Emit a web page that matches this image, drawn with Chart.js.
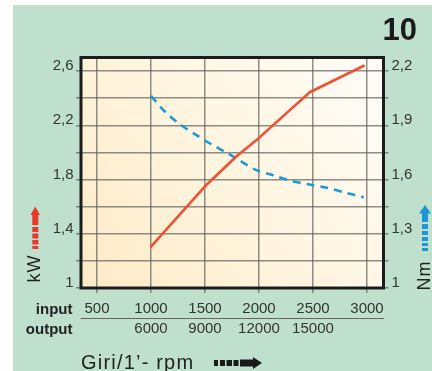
<!DOCTYPE html>
<html>
<head>
<meta charset="utf-8">
<script src="https://cdn.jsdelivr.net/npm/chart.js@4/dist/chart.umd.min.js"></script>
<style>
html,body{margin:0;padding:0;background:#fff;}
#wrap{position:relative;width:432px;height:371px;}
canvas{display:block;}
</style>
</head>
<body>
<div id="wrap"><canvas id="c" width="432" height="371"></canvas></div>
<script>
// ---- data ----
const inputTicks  = [500, 1000, 1500, 2000, 2500, 3000];
const outputTicks = ['', '6000', '9000', '12000', '15000', ''];
const kwGridTicks = [1, 1.2, 1.4, 1.6, 1.8, 2.0, 2.2, 2.4, 2.6];
const kwLabeled   = [1, 1.4, 1.8, 2.2, 2.6];
const nmGridTicks = [1, 1.15, 1.3, 1.45, 1.6, 1.75, 1.9, 2.05, 2.2];
const nmLabeled   = [1, 1.3, 1.6, 1.9, 2.2];

const kwRpm    = [1000, 1500, 1790, 2000, 2470, 2970];
const kwValues = [1.306, 1.75, 1.97, 2.107, 2.444, 2.639];

const nmRpm    = [1000, 1130, 1270, 1410, 1550, 1690, 1820, 1960, 2130, 2290, 2470, 2630, 2810, 2970];
const nmValues = [2.063, 1.975, 1.905, 1.85, 1.798, 1.752, 1.706, 1.656, 1.624, 1.594, 1.572, 1.554, 1.526, 1.502];

const FONT = "'Liberation Sans', Arial, Helvetica, sans-serif";
const gridColor = 'rgba(90,90,85,0.68)';
const fmt = v => String(Math.round(v * 100) / 100).replace('.', ',');
const isIn = (arr, v) => arr.some(a => Math.abs(a - v) < 1e-6);

const deco = {
  id: 'deco',
  beforeDraw(chart) {
    const {ctx, chartArea: a} = chart;
    ctx.save();
    ctx.fillStyle = '#ffffff';
    ctx.fillRect(0, 0, 432, 371);
    ctx.fillStyle = '#bfe0cc';
    ctx.fillRect(13, 5, 419, 366);
    const g = ctx.createLinearGradient(a.left, a.bottom, a.right, a.top);
    g.addColorStop(0, '#fdebc6');
    g.addColorStop(0.5, '#fff5e0');
    g.addColorStop(1, '#fffdf9');
    ctx.fillStyle = g;
    ctx.fillRect(a.left, a.top, a.right - a.left, a.bottom - a.top);
    ctx.restore();
  },
  afterDraw(chart) {
    const {ctx, chartArea: a} = chart;
    ctx.save();
    // plot frame
    ctx.lineWidth = 3;
    ctx.strokeStyle = '#1c1c1c';
    ctx.strokeRect(a.left, a.top, a.right - a.left, a.bottom - a.top);

    // input / output row captions
    ctx.fillStyle = '#222';
    ctx.font = 'bold 15px ' + FONT;
    ctx.textAlign = 'right';
    ctx.textBaseline = 'middle';
    ctx.fillText('input', 72.5, 310);
    ctx.fillText('output', 72.5, 330);
    // separator line
    ctx.strokeStyle = '#666';
    ctx.lineWidth = 1;
    ctx.beginPath();
    ctx.moveTo(80.5, 318.5);
    ctx.lineTo(384, 318.5);
    ctx.stroke();

    // x axis title
    ctx.fillStyle = '#222';
    ctx.font = '20px ' + FONT;
    ctx.textAlign = 'left';
    ctx.textBaseline = 'alphabetic';
    ctx.letterSpacing = '1.2px';
    ctx.fillText('Giri/1\u2019- rpm', 81, 369);
    ctx.letterSpacing = '0px';

    // black dashed arrow
    ctx.fillStyle = '#1a1a1a';
    [[214, 218], [220, 225], [226.5, 232], [233.5, 238.5]].forEach(s => ctx.fillRect(s[0], 360, s[1] - s[0], 6));
    ctx.fillRect(240, 359.5, 13.5, 7);
    ctx.beginPath();
    ctx.moveTo(253, 357); ctx.lineTo(262, 363); ctx.lineTo(253, 369); ctx.closePath(); ctx.fill();

    // big number
    ctx.font = 'bold 31px ' + FONT;
    ctx.textAlign = 'right';
    ctx.fillText('10', 417, 40);

    // kW title + red arrow
    ctx.save();
    ctx.translate(35, 269);
    ctx.rotate(-Math.PI / 2);
    ctx.font = '18px ' + FONT;
    ctx.letterSpacing = '1px';
    ctx.textAlign = 'center';
    ctx.textBaseline = 'middle';
    ctx.fillStyle = '#222';
    ctx.fillText('kW', 0.5, 0);
    ctx.restore();
    ctx.fillStyle = '#e83a2c';
    ctx.beginPath();
    ctx.moveTo(30.5, 215); ctx.lineTo(35.3, 206.5); ctx.lineTo(40, 215); ctx.closePath(); ctx.fill();
    ctx.fillRect(32.3, 214.5, 6, 10.5);
    [[227, 232], [233.5, 238.5], [240, 244.5], [246, 249]].forEach(s => ctx.fillRect(32.3, s[0], 6, s[1] - s[0]));

    // Nm title + blue arrow
    ctx.save();
    ctx.translate(425, 276);
    ctx.rotate(-Math.PI / 2);
    ctx.font = '18px ' + FONT;
    ctx.letterSpacing = '1px';
    ctx.textAlign = 'center';
    ctx.textBaseline = 'middle';
    ctx.fillStyle = '#222';
    ctx.fillText('Nm', 0.5, 0);
    ctx.restore();
    ctx.fillStyle = '#1d95d6';
    ctx.beginPath();
    ctx.moveTo(419, 213.5); ctx.lineTo(425, 205); ctx.lineTo(431, 213.5); ctx.closePath(); ctx.fill();
    ctx.fillRect(422, 213, 6, 9);
    [[224, 229], [231, 235], [237, 241], [243, 246], [248, 251]].forEach(s => ctx.fillRect(422, s[0], 6, s[1] - s[0]));
    ctx.restore();
  }
};

const tickFont = {family: FONT, size: 15};

new Chart(document.getElementById('c').getContext('2d'), {
  type: 'line',
  data: {
    datasets: [
      {
        label: 'kW',
        data: kwRpm.map((x, i) => ({x: x, y: kwValues[i]})),
        yAxisID: 'y',
        borderColor: '#ee5233',
        borderWidth: 2.6,
        pointRadius: 0,
        tension: 0,
        borderCapStyle: 'round',
        borderJoinStyle: 'round'
      },
      {
        label: 'Nm',
        data: nmRpm.map((x, i) => ({x: x, y: nmValues[i]})),
        yAxisID: 'y2',
        borderColor: '#1b9ad8',
        borderWidth: 2.6,
        borderDash: [8, 6],
        pointRadius: 0,
        tension: 0.3
      }
    ]
  },
  options: {
    responsive: false,
    animation: false,
    events: [],
    layout: {padding: {top: 57.5, left: 0, right: 0, bottom: 0}},
    plugins: {legend: {display: false}, tooltip: {enabled: false}, title: {display: false}},
    scales: {
      x: {
        type: 'linear',
        position: 'bottom',
        min: 352,
        max: 3153,
        afterBuildTicks: s => { s.ticks = inputTicks.map(v => ({value: v})); },
        afterFit: s => { s.height = 83; },
        border: {display: false},
        grid: {color: gridColor, lineWidth: 1.5, tickLength: 5, tickColor: gridColor},
        ticks: {
          autoSkip: false, maxRotation: 0, padding: 6, color: '#333',
          font: {family: FONT, size: 15, lineHeight: 1.32},
          callback: v => {
            const i = inputTicks.indexOf(v);
            return i < 0 ? '' : [String(v), outputTicks[i]];
          }
        }
      },
      y: {
        type: 'linear',
        position: 'left',
        min: 1,
        max: 2.7,
        afterBuildTicks: s => { s.ticks = kwGridTicks.map(v => ({value: v})); },
        afterFit: s => { s.width = 81; },
        border: {display: false},
        grid: {color: gridColor, lineWidth: 1.5, tickLength: 5, tickColor: gridColor},
        ticks: {
          autoSkip: false, padding: 2.5, labelOffset: -5, color: '#333', font: tickFont,
          callback: v => isIn(kwLabeled, v) ? fmt(v) : ''
        }
      },
      y2: {
        type: 'linear',
        position: 'right',
        min: 1,
        max: 2.275,
        afterBuildTicks: s => { s.ticks = nmGridTicks.map(v => ({value: v})); },
        afterFit: s => { s.width = 48.5; },
        border: {display: false},
        grid: {drawOnChartArea: false, color: gridColor, lineWidth: 1.5, tickLength: 5, tickColor: gridColor},
        ticks: {
          autoSkip: false, padding: 3, labelOffset: -5, color: '#333', font: tickFont,
          callback: v => isIn(nmLabeled, v) ? fmt(v) : ''
        }
      }
    }
  },
  plugins: [deco]
});
</script>
</body>
</html>
